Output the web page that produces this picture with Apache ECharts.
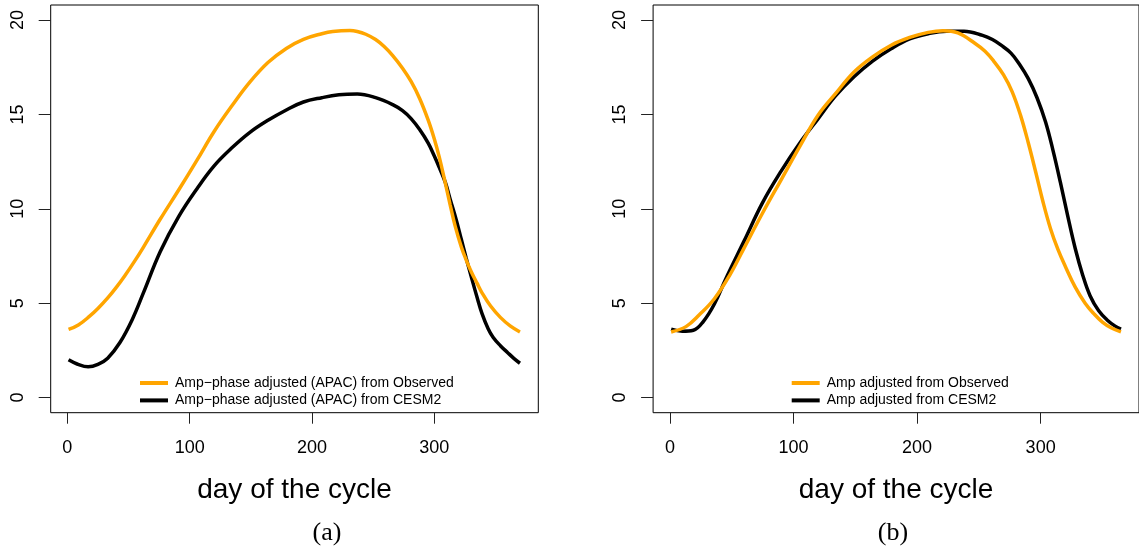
<!DOCTYPE html>
<html>
<head>
<meta charset="utf-8">
<script src="https://cdn.jsdelivr.net/npm/echarts@6/dist/echarts.min.js"></script>
<style>
html,body{margin:0;padding:0;background:#fff;}
#chart{width:1139px;height:548px;}
</style>
</head>
<body>
<div id="chart"></div>
<script>
// ---------- data ----------
const xTicks = [0, 100, 200, 300];
const yTicks = [0, 5, 10, 15, 20];

// Panel (a): amplitude-phase adjusted
const aObsDays = [1, 9, 18, 25, 33, 40, 47, 55, 62, 76, 91, 106, 120, 135, 149, 164, 179, 193, 208, 217, 231, 237, 244, 252, 259, 266, 274, 281, 288, 295, 300, 304, 308, 313, 317, 322, 326, 330, 335, 339, 346, 354, 362, 370];
const aObsVals = [3.61, 3.85, 4.30, 4.72, 5.28, 5.84, 6.46, 7.23, 7.95, 9.46, 11.0, 12.58, 14.1, 15.5, 16.7, 17.75, 18.5, 18.98, 19.28, 19.4, 19.45, 19.4, 19.25, 18.97, 18.6, 18.12, 17.45, 16.75, 15.85, 14.7, 13.7, 12.75, 11.65, 10.2, 9.1, 8.0, 7.3, 6.7, 6.05, 5.55, 4.85, 4.25, 3.8, 3.48];
const aCesmDays = [1, 8, 17, 25, 33, 43, 53, 62, 76, 91, 106, 120, 135, 149, 164, 179, 193, 208, 222, 237, 252, 266, 274, 281, 288, 295, 300, 304, 309, 313, 318, 322, 326, 330, 335, 339, 344, 348, 354, 360, 365, 370];
const aCesmVals = [2.0, 1.78, 1.63, 1.76, 2.09, 2.92, 4.13, 5.52, 7.74, 9.59, 11.07, 12.28, 13.26, 14.04, 14.69, 15.24, 15.66, 15.89, 16.04, 16.08, 15.89, 15.52, 15.2, 14.78, 14.2, 13.48, 12.8, 12.2, 11.4, 10.5, 9.4, 8.4, 7.4, 6.45, 5.3, 4.45, 3.65, 3.2, 2.75, 2.38, 2.08, 1.82];

// Panel (b): amplitude adjusted
const bObsDays = [1, 13, 24, 36, 48, 60, 75, 90, 105, 120, 134, 149, 164, 179, 194, 209, 221, 233, 247, 255, 262, 270, 277, 284, 290, 296, 302, 308, 314, 320, 328, 336, 343, 350, 357, 365];
const bObsVals = [3.48, 3.76, 4.40, 5.24, 6.44, 7.92, 9.78, 11.54, 13.30, 14.97, 16.1, 17.25, 18.05, 18.67, 19.08, 19.35, 19.44, 19.32, 18.76, 18.35, 17.83, 17.1, 16.2, 14.9, 13.5, 11.95, 10.35, 8.95, 7.85, 6.95, 5.85, 5.0, 4.45, 4.0, 3.7, 3.48];
const bCesmDays = [1, 10, 19, 27, 36, 45, 60, 75, 90, 105, 120, 134, 149, 164, 179, 194, 209, 224, 238, 253, 261, 268, 276, 283, 290, 297, 304, 310, 316, 322, 328, 334, 340, 347, 354, 360, 365];
const bCesmVals = [3.63, 3.52, 3.57, 4.03, 4.96, 6.26, 8.29, 10.33, 12.0, 13.48, 14.78, 15.98, 17.0, 17.83, 18.48, 19.0, 19.28, 19.41, 19.41, 19.19, 18.97, 18.67, 18.25, 17.65, 16.9, 15.9, 14.6, 13.1, 11.4, 9.6, 7.9, 6.5, 5.4, 4.6, 4.1, 3.8, 3.63];

const names = {
  aObs: 'Amp\u2212phase adjusted (APAC) from Observed',
  aCesm: 'Amp\u2212phase adjusted (APAC) from CESM2',
  bObs: 'Amp adjusted from Observed',
  bCesm: 'Amp adjusted from CESM2'
};

const zip = (xs, ys) => xs.map((x, i) => [x, ys[i]]);

// ---------- layout / style ----------
const ORANGE = '#FFA500';
const FONT = 'Liberation Sans, Arial, sans-serif';
const gridA = {left: 50.7, top: 5, width: 487.6, height: 407.7};
const gridB = {left: 653.1, top: 5, width: 488.5, height: 407.7};

function xAxis(idx, min, max) {
  return {
    type: 'value', gridIndex: idx, min: min, max: max,
    name: 'day of the cycle', nameLocation: 'middle', nameGap: 64,
    nameTextStyle: {fontFamily: FONT, fontSize: 28, color: '#000'},
    axisLine: {show: false, onZero: false},
    splitLine: {show: false},
    axisTick: {show: true, length: 11, inside: false, customValues: xTicks, lineStyle: {color: '#222', width: 1}},
    axisLabel: {show: true, customValues: xTicks, margin: 26, fontFamily: FONT, fontSize: 18, color: '#000'}
  };
}
function yAxis(idx) {
  return {
    type: 'value', gridIndex: idx, min: -0.8, max: 20.8,
    axisLine: {show: false, onZero: false},
    splitLine: {show: false},
    axisTick: {show: true, length: 12, inside: false, customValues: yTicks, lineStyle: {color: '#222', width: 1}},
    axisLabel: {show: true, customValues: yTicks, rotate: 90, margin: 24, fontFamily: FONT, fontSize: 18, color: '#000'}
  };
}
function line(name, data, color, xi) {
  return {
    type: 'line', name: name, xAxisIndex: xi, yAxisIndex: xi,
    data: data, smooth: 0.4, showSymbol: false, symbol: 'none',
    lineStyle: {color: color, width: 3.5}, itemStyle: {color: color},
    z: color === ORANGE ? 3 : 2, animation: false
  };
}
function legend(names, left) {
  return {
    orient: 'vertical', left: left, top: 371, icon: 'rect',
    itemWidth: 28, itemHeight: 4, itemGap: 3.4,
    data: names, selectedMode: false,
    textStyle: {fontFamily: FONT, fontSize: 14, color: '#000', lineHeight: 14, padding: [0, 0, 0, 2]}
  };
}

const chart = echarts.init(document.getElementById('chart'), null, {renderer: 'canvas'});
chart.setOption({
  backgroundColor: '#fff',
  animation: false,
  grid: [
    Object.assign({show: true, borderColor: '#000', borderWidth: 1, containLabel: false}, gridA),
    Object.assign({show: true, borderColor: '#000', borderWidth: 1, containLabel: false}, gridB)
  ],
  xAxis: [xAxis(0, -13.6, 385), xAxis(1, -13.6, 379.6)],
  yAxis: [yAxis(0), yAxis(1)],
  legend: [legend([names.aObs, names.aCesm], 135), legend([names.bObs, names.bCesm], 786.7)],
  title: [
    {text: '(a)', left: 322, top: 515, textAlign: 'center', textStyle: {fontFamily: 'Liberation Serif, serif', fontWeight: 'normal', fontSize: 26, color: '#000'}},
    {text: '(b)', left: 888, top: 515, textAlign: 'center', textStyle: {fontFamily: 'Liberation Serif, serif', fontWeight: 'normal', fontSize: 26, color: '#000'}}
  ],
  series: [
    line(names.aCesm, zip(aCesmDays, aCesmVals), '#000', 0),
    line(names.aObs, zip(aObsDays, aObsVals), ORANGE, 0),
    line(names.bCesm, zip(bCesmDays, bCesmVals), '#000', 1),
    line(names.bObs, zip(bObsDays, bObsVals), ORANGE, 1)
  ]
});
</script>
</body>
</html>
